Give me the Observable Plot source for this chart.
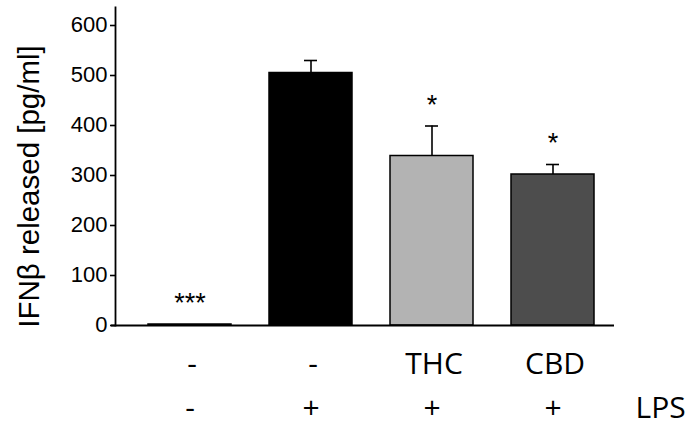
<!DOCTYPE html>
<html>
<head>
<meta charset="utf-8">
<script src="https://cdn.jsdelivr.net/npm/d3@7"></script>
<script src="https://cdn.jsdelivr.net/npm/@observablehq/plot@0.6"></script>
<style>
  html, body { margin: 0; padding: 0; background: #fff; }
  #chart svg { display: block; overflow: visible; }
</style>
</head>
<body>
<div id="chart"></div>
<script>
// ---- data ----
const groups    = ["ctrl", "LPS", "THC+LPS", "CBD+LPS"];
const drugLabel = ["-", "-", "THC", "CBD"];
const lpsLabel  = ["-", "+", "+", "+"];
const values    = [2, 505, 339, 302];
const errors    = [0, 25, 60, 20];
const sigMarks  = ["***", "", "*", "*"];
const barColors = ["#000000", "#000000", "#b3b3b3", "#4d4d4d"];
const yTicks    = [0, 100, 200, 300, 400, 500, 600];
const yTitle    = "IFNβ released [pg/ml]";
const rowTitle  = "LPS";

const data = groups.map((g, i) => ({
  group: g, drug: drugLabel[i], lps: lpsLabel[i],
  value: values[i], err: errors[i], top: values[i] + errors[i],
  sig: sigMarks[i], color: barColors[i]
}));

const labelFont = "'Open Sans', sans-serif";
const axisFont = "'Liberation Sans', Arial, sans-serif";

const chart = Plot.plot({
  width: 697,
  height: 426,
  marginLeft: 115,
  marginRight: 83,
  marginTop: 7,
  marginBottom: 101,
  style: { fontFamily: axisFont, color: "#000", background: "#fff", overflow: "visible" },
  x: { domain: groups, paddingInner: 0.316, paddingOuter: 0.21, align: 0.616, axis: null },
  y: { domain: [0, 636], axis: null },
  color: { type: "identity" },
  marks: [
    Plot.axisY({ ticks: yTicks, tickSize: 5, text: null, label: null, strokeWidth: 1.6 }),
    Plot.text(yTicks.map(t => ({ t, s: String(t) })), { y: "t", text: "s", frameAnchor: "left", textAnchor: "end", dx: -8, dy: -1, fontSize: "22px", fontFamily: axisFont, fill: "#000" }),
    Plot.frame({ anchor: "left", strokeWidth: 1.8 }),
    Plot.barY(data, { x: "group", y: "value", fill: "color", stroke: "#000", strokeWidth: 1.5 }),
    Plot.ruleX(data.filter(d => d.err > 0), { x: "group", y1: "value", y2: "top", stroke: "#000", strokeWidth: 1.6 }),
    Plot.tickY(data.filter(d => d.err > 0), { x: "group", y: "top", stroke: "#000", strokeWidth: 1.6, insetLeft: 35, insetRight: 35 }),
    Plot.ruleY([0], { stroke: "#000", strokeWidth: 2, insetLeft: -4 }),
    Plot.text(data, { x: "group", y: "top", text: "sig", dy: -21, fontSize: 27, fill: "#000" }),
    Plot.text(data, { x: "group", text: "drug", frameAnchor: "bottom", dx: 2, dy: 48, fontSize: 30, fontFamily: labelFont, fill: "#000" }),
    Plot.text(data, { x: "group", text: "lps", frameAnchor: "bottom", dy: 92, fontSize: 30, fontFamily: labelFont, fill: "#000" }),
    Plot.text([rowTitle], { text: d => d, frameAnchor: "bottom-right", textAnchor: "start", dx: 21, dy: 92, fontSize: 30, fontFamily: labelFont, fill: "#000" }),
    Plot.text([yTitle], { text: d => d, frameAnchor: "left", textAnchor: "middle", rotate: -90, dx: -86, dy: 20, fontSize: 29.5, letterSpacing: 1.1, fill: "#000" })
  ]
});
document.getElementById("chart").appendChild(chart);
</script>
</body>
</html>
